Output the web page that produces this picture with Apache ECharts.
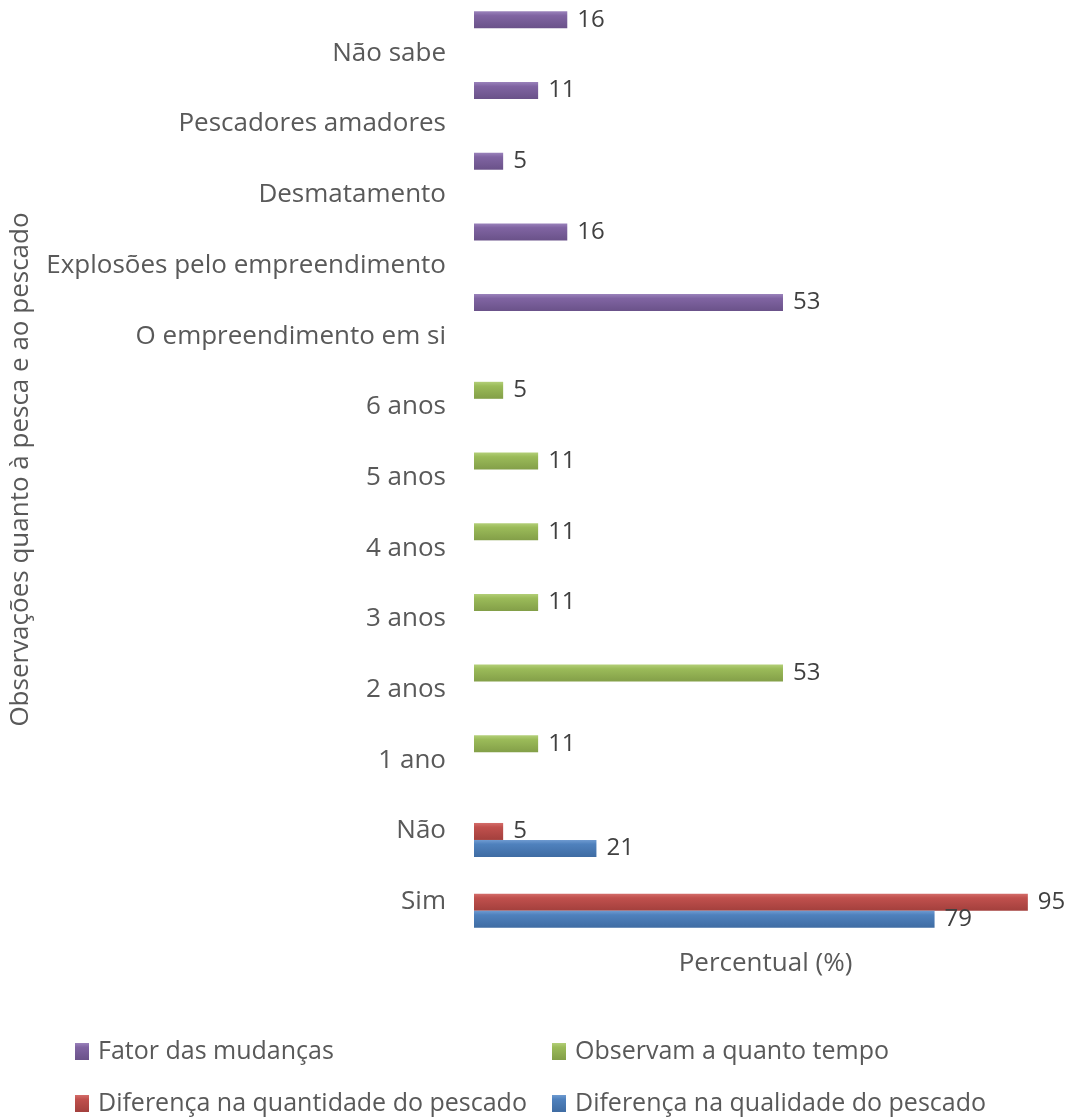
<!DOCTYPE html>
<html>
<head>
<meta charset="utf-8">
<script src="https://cdn.jsdelivr.net/npm/echarts@6/dist/echarts.min.js"></script>
<style>html,body{margin:0;padding:0;background:#fff;}#chart{width:1071px;height:1117px;}</style>
</head>
<body>
<div id="chart"></div>
<script>
// Categories from bottom to top
var categories = ['Sim', 'Não', '1 ano', '2 anos', '3 anos', '4 anos', '5 anos', '6 anos',
  'O empreendimento em si', 'Explosões pelo empreendimento', 'Desmatamento', 'Pescadores amadores', 'Não sabe'];
var seriesNames = ['Fator das mudanças', 'Observam a quanto tempo', 'Diferença na quantidade do pescado', 'Diferença na qualidade do pescado'];
var fatorMudancas = [null, null, null, null, null, null, null, null, 53, 16, 5, 11, 16];
var observamTempo = [null, null, 11, 53, 11, 11, 11, 5, null, null, null, null, null];
var difQuantidade = [95, 5, null, null, null, null, null, null, null, null, null, null, null];
var difQualidade = [79, 21, null, null, null, null, null, null, null, null, null, null, null];
var xAxisName = 'Percentual (%)';
var yAxisName = 'Observações quanto à pesca e ao pescado';

var colors = {
  'Fator das mudanças': ['#9a82bb', '#8064A2', '#6a5289'],
  'Observam a quanto tempo': ['#b3cf78', '#9BBB59', '#839f48'],
  'Diferença na quantidade do pescado': ['#d46d6a', '#C0504D', '#a3403d'],
  'Diferença na qualidade do pescado': ['#6f9bd1', '#4F81BD', '#3f6ca3']
};
var FONT = 'Open Sans';
function mkSeries(name, data) {
  var c = colors[name];
  return {
    name: name, type: 'bar', data: data, barWidth: 17, barGap: '0%',
    itemStyle: {
      color: new echarts.graphic.LinearGradient(0, 0, 0, 1, [
        {offset: 0, color: c[0]}, {offset: 0.25, color: c[1]}, {offset: 1, color: c[2]}
      ])
    },
    label: {show: true, position: 'right', distance: 10, color: '#404040', fontFamily: FONT, fontSize: 24,
      formatter: function (p) { return p.value; }}
  };
}
var chart = echarts.init(document.getElementById('chart'), null, {renderer: 'canvas'});
function legendItem(name, left, top) {
  return {
    data: [{name: name, icon: 'rect'}], left: left, top: top, orient: 'horizontal',
    itemWidth: 14, itemHeight: 17, itemGap: 0, padding: 0,
    textStyle: {fontFamily: FONT, fontSize: 25, color: '#595959', padding: [0, 0, 0, 4]},
    selectedMode: false
  };
}
chart.setOption({
  animation: false,
  backgroundColor: '#ffffff',
  color: [colors[seriesNames[0]][1], colors[seriesNames[1]][1], colors[seriesNames[2]][1], colors[seriesNames[3]][1]],
  grid: {left: 472, right: 14, top: 10, bottom: 188, containLabel: false},
  legend: [
    legendItem(seriesNames[0], 75, 1039),
    legendItem(seriesNames[1], 552, 1039),
    legendItem(seriesNames[2], 75, 1091),
    legendItem(seriesNames[3], 552, 1091)
  ],
  xAxis: {
    type: 'value', min: 0, max: 100, splitNumber: 5,
    axisLine: {show: false}, axisTick: {show: false}, axisLabel: {show: false}, splitLine: {show: false},
    name: xAxisName, nameLocation: 'middle', nameGap: 22,
    nameTextStyle: {fontFamily: FONT, fontSize: 26, color: '#595959'}
  },
  yAxis: {
    type: 'category', data: categories,
    axisLine: {show: false}, axisTick: {show: false},
    axisLabel: {fontFamily: FONT, fontSize: 26, color: '#595959', margin: 28, verticalAlign: 'top', lineHeight: 16},
    name: yAxisName, nameLocation: 'middle', nameGap: 440,
    nameTextStyle: {fontFamily: FONT, fontSize: 26, color: '#595959'}
  },
  series: [
    mkSeries(seriesNames[0], fatorMudancas),
    mkSeries(seriesNames[1], observamTempo),
    mkSeries(seriesNames[2], difQuantidade),
    mkSeries(seriesNames[3], difQualidade)
  ]
});
</script>
</body>
</html>
